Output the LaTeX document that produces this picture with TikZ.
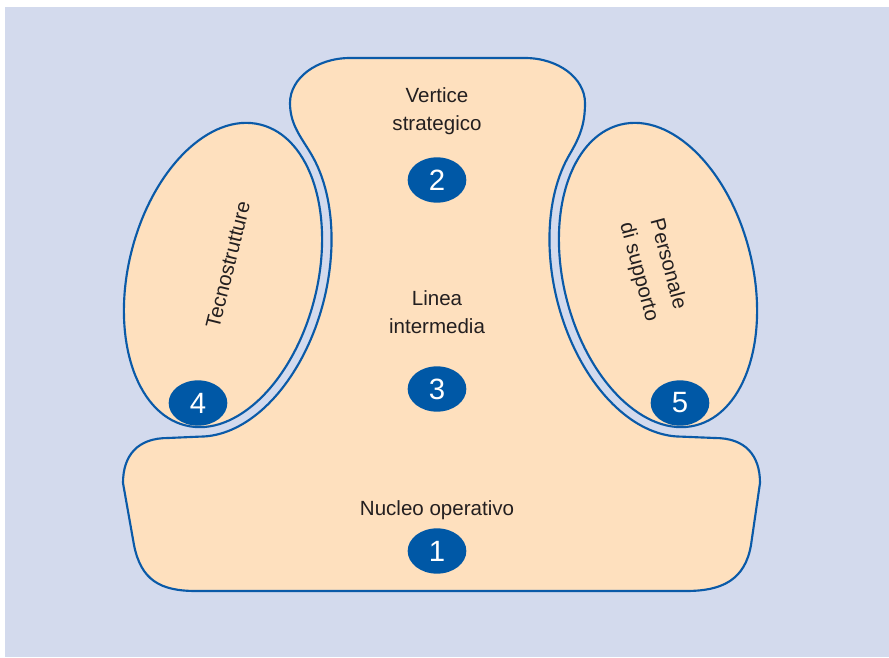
\documentclass[tikz,border=0pt]{standalone}
\usepackage{fontspec}
\setmainfont{Liberation Sans}
\usetikzlibrary{shapes.geometric}
\definecolor{bgblue}{HTML}{D3DAED}
\definecolor{shapeorange}{HTML}{FEE0BE}
\definecolor{lineblue}{HTML}{0A5AA8}
\definecolor{discblue}{HTML}{0058A6}
\definecolor{textgray}{HTML}{231F20}
\def\myoffN{sqrt((15.5*cos(\t))^2+(9.45*sin(\t))^2)}
\def\myoffX{(cos(\t)*(94.5+9.5*15.5/\myoffN))}
\def\myoffY{(sin(\t)*(155+9.5*9.45/\myoffN))}
\begin{document}
\begin{tikzpicture}[x=0.75pt,y=-0.75pt,
  outline/.style={draw=lineblue, line width=1.6pt, fill=shapeorange, line join=round},
  disc/.style={ellipse, fill=discblue, minimum width=44pt, minimum height=34pt, inner sep=0pt,
    text=white, font=\fontsize{22}{22}\selectfont},
  lbl/.style={text=textgray, font=\fontsize{15.4}{21}\selectfont, align=center, inner sep=0pt}]
\useasboundingbox (0,0) rectangle (889,657);
\fill[white] (0,0) rectangle (889,657);
\fill[bgblue] (5,7) rectangle (889,657);

% central + bottom shape
\path[outline] (290,103) .. controls (290,78) and (317,58) .. (350,58)
  -- (525,58) .. controls (558,58) and (585,78) .. (585,103)
  .. controls (585,125) and (579.5,137.5) .. (569.4,154.8)
  -- plot[domain=58:-81.3, samples=70, variable=\t]
     ({658-\myoffX*cos(14)-\myoffY*sin(14)}, {275+\myoffX*sin(14)-\myoffY*cos(14)})
  -- (715,438) .. controls (745,438) and (760,455) .. (760,483)
  -- (751,545) .. controls (745,580) and (722,591) .. (686,591)
  -- (196,591) .. controls (160,591) and (141,580) .. (134,545)
  -- (123,483) .. controls (123,455) and (138,438) .. (168,438)
  -- plot[domain=-81.3:58, samples=70, variable=\t]
     ({223+\myoffX*cos(14)+\myoffY*sin(14)}, {275+\myoffX*sin(14)-\myoffY*cos(14)})
  .. controls (301.5,137.5) and (290,125) .. (290,103) -- cycle;

% side ellipses
\begin{scope}[shift={(223,275)}, rotate=-14]
  \path[outline] (0,0) ellipse [x radius=94.5, y radius=155];
\end{scope}
\begin{scope}[shift={(658,275)}, rotate=14]
  \path[outline] (0,0) ellipse [x radius=94.5, y radius=155];
\end{scope}

% labels
\node[lbl] (vertice) at (437,111) {Vertice\\strategico};
\node[lbl] (linea) at (437,312) {Linea\\intermedia};
\node[lbl] (nucleo) at (437,510) {Nucleo operativo};
\node[lbl, rotate=76] (tecno) at (228,265) {Tecnostrutture};
\node[lbl, rotate=-75, font=\fontsize{15.4}{22.5}\selectfont] (personale) at (653,268) {Personale\\di supporto};

% numbered discs
\node[disc] (n1) at (437,551) {1};
\node[disc] (n2) at (437,180) {2};
\node[disc] (n3) at (437,389) {3};
\node[disc] (n4) at (198,403) {4};
\node[disc] (n5) at (680,403) {5};
\end{tikzpicture}
\end{document}
